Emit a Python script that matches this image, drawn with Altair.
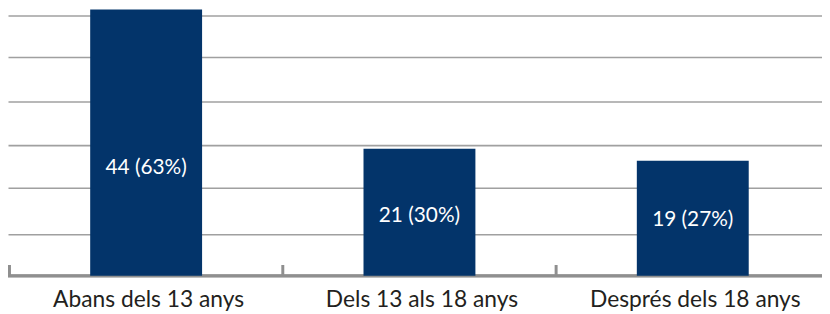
import json
import altair as alt
import pandas as pd

categories = ["Abans dels 13 anys", "Dels 13 als 18 anys", "Després dels 18 anys"]
counts = [44, 21, 19]
percents = [63, 30, 27]
grid_values = [6.9, 14.6, 21.6, 28.8, 36.1, 43.0]

df = pd.DataFrame({"cat": categories, "count": counts, "pct": percents})
df["idx"] = list(range(len(categories)))
df["label"] = [f"{c} ({p}%)" for c, p in zip(counts, percents)]

x_scale = alt.Scale(domain=[-0.5054, 2.4728], nice=False, zero=False, padding=0)
y_scale = alt.Scale(domain=[0, 44], nice=False, padding=0)
x_axis = alt.Axis(orient="bottom", values=list(range(len(categories))),
                  labelExpr=f"{json.dumps(categories, ensure_ascii=False)}[datum.value]",
                  domain=False, ticks=False, grid=False,
                  labelAngle=0, labelFont="Lato", labelFontSize=23, labelLimit=400,
                  labelColor="#231f20", labelPadding=13, labelOffset=2)

y_enc = alt.Y(
    "count:Q", title=None, scale=y_scale,
    axis=alt.Axis(values=grid_values, grid=True, gridColor="#a0a0a0", gridWidth=1.6,
                  domain=False, ticks=False, labels=False),
)

base = alt.Chart(df)
baseline = base.mark_rule(color="#8f8f8f", strokeWidth=3).encode(y=alt.datum(0))
bars = base.mark_bar(color="#03346a", width=113).encode(
    x=alt.X("idx:Q", title=None, scale=x_scale, axis=x_axis),
    y=y_enc,
)
ticks = base.transform_calculate(edge="datum.idx - 0.5").mark_rule(
    color="#8f8f8f", strokeWidth=3
).encode(
    x=alt.X("edge:Q", scale=x_scale),
    y=alt.datum(0),
    y2=alt.datum(1.8),
)
text = base.transform_calculate(pos="datum.count*0.344+2.67").mark_text(
    color="white", font="Lato", fontSize=21, baseline="middle"
).encode(
    x=alt.X("idx:Q", scale=x_scale),
    y=alt.Y("pos:Q", scale=y_scale),
    text="label:N",
)

chart = alt.layer(baseline, bars, ticks, text).properties(
    width=822, height=269,
    autosize=alt.AutoSizeParams(type="none"),
    padding={"left": 0, "top": 0, "right": 0, "bottom": 37},
).configure_view(stroke=None)

chart.save("out.html", embed_options={"renderer": "svg", "actions": False})
